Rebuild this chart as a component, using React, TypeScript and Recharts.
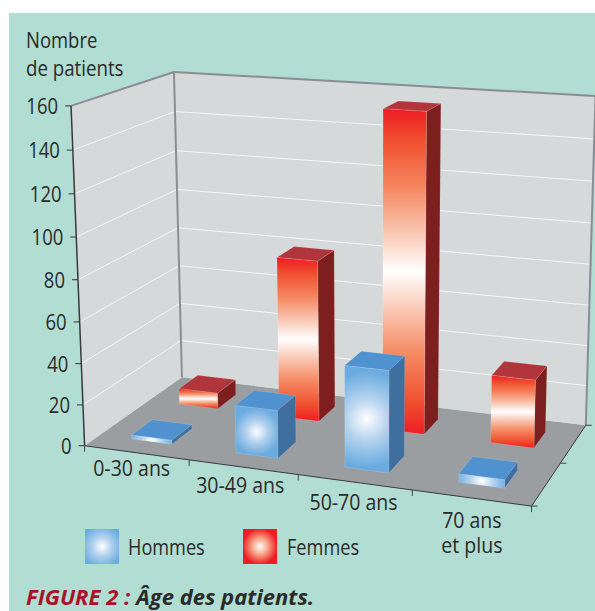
import React from 'react';
import { BarChart, Bar, XAxis, YAxis } from 'recharts';

const categories = ['0-30 ans', '30-49 ans', '50-70 ans', '70 ans et plus'];
const hommes = [2, 23, 48, 4];
const femmes = [8, 80, 155, 33];
const yTicks = [0, 20, 40, 60, 80, 100, 120, 140, 160];
const seriesNames = ['Hommes', 'Femmes'];
const rows = categories.map((c, i) => ({ c, hommes: hommes[i], femmes: femmes[i] }));

const W = 595, H = 611;
const PL = 100, PT = 100, PW = 400, PH = 400;
const BAR = 39;
const FONT = '"Open Sans", sans-serif';
const INK = '#2a2a2a';

// camera: perspective fitted to the seven visible corners of the 3D box (u along x, v up, w depth)
const corners: number[][] = [
  [0, 0, 0, 84.5, 446], [0, 1, 0, 71, 106], [0, 0, 1, 182, 377], [0, 1, 1, 174, 72],
  [1, 0, 0, 531.7, 505.7], [1, 0, 1, 585.7, 425.7], [1, 1, 1, 595.5, 96],
];
function solveCamera(): number[] {
  const n = 11;
  const A: number[][] = Array.from({ length: n }, () => new Array(n + 1).fill(0));
  const add = (r: number[], b: number) => {
    for (let i = 0; i < n; i++) { for (let j = 0; j < n; j++) A[i][j] += r[i] * r[j]; A[i][n] += r[i] * b; }
  };
  corners.forEach(([u, v, w, x, y]) => {
    add([u, v, w, 1, 0, 0, 0, 0, -x * u, -x * v, -x * w], x);
    add([0, 0, 0, 0, u, v, w, 1, -y * u, -y * v, -y * w], y);
  });
  for (let c = 0; c < n; c++) {
    let p = c;
    for (let r = c + 1; r < n; r++) if (Math.abs(A[r][c]) > Math.abs(A[p][c])) p = r;
    [A[c], A[p]] = [A[p], A[c]];
    for (let r = 0; r < n; r++) {
      if (r === c) continue;
      const f = A[r][c] / A[c][c];
      for (let k = c; k <= n; k++) A[r][k] -= f * A[c][k];
    }
  }
  return A.map((r, i) => r[n] / r[i]);
}
const M = solveCamera();
const project = (u: number, v: number, w: number): [number, number] => {
  const d = M[8] * u + M[9] * v + M[10] * w + 1;
  return [(M[0] * u + M[1] * v + M[2] * w + M[3]) / d, (M[4] * u + M[5] * v + M[6] * w + M[7]) / d];
};
const poly = (pts: number[][]) => pts.map((p) => project(p[0], p[1], p[2]).map((n) => n.toFixed(2)).join(',')).join(' ');
const Seg = ({ a, b, stroke, sw }: any) => {
  const p = project(a[0], a[1], a[2]);
  const q = project(b[0], b[1], b[2]);
  return <line x1={p[0]} y1={p[1]} x2={q[0]} y2={q[1]} stroke={stroke} strokeWidth={sw} />;
};
const Narrow = ({ x, y, sx, size, anchor, children, ...rest }: any) => (
  <text transform={`translate(${x},${y}) scale(${sx},1)`} textAnchor={anchor} fontSize={size} fontFamily={FONT} fill={INK} {...rest}>
    {children}
  </text>
);

const makeBox = (w0: number, w1: number, glow: boolean, front: string, top: string, side: string) => (props: any) => {
  const { x, y, width, height, index } = props;
  const u0 = (x - PL) / PW, u1 = (x + width - PL) / PW;
  const vt = 1 - (y - PT) / PH, vb = 1 - (y + height - PT) / PH;
  const edge = 'rgba(255,255,255,0.25)';
  const a = project(u0, vb, w0), b = project(u1, vb, w0), c = project(u1, vt, w0), d = project(u0, vt, w0);
  const cx = (a[0] + b[0] + c[0] + d[0]) / 4, cy = (a[1] + b[1] + c[1] + d[1]) / 4;
  const r = Math.max((b[0] - a[0]) * 0.56, (a[1] - d[1]) * 0.47);
  const id = `${front}${index}`;
  return (
    <g>
      {glow && (
        <radialGradient id={id} gradientUnits="userSpaceOnUse" cx={cx} cy={cy} r={r}>
          <stop offset="0" stopColor="#ffffff" />
          <stop offset="0.45" stopColor="#b4d2ee" />
          <stop offset="1" stopColor="#6aace0" />
        </radialGradient>
      )}
      <polygon points={poly([[u0, vt, w0], [u1, vt, w0], [u1, vt, w1], [u0, vt, w1]])} fill={top} stroke={edge} strokeWidth={0.5} />
      <polygon points={poly([[u1, vb, w0], [u1, vt, w0], [u1, vt, w1], [u1, vb, w1]])} fill={side} stroke={edge} strokeWidth={0.5} />
      <polygon points={poly([[u0, vb, w0], [u1, vb, w0], [u1, vt, w0], [u0, vt, w0]])} fill={glow ? `url(#${id})` : `url(#${front})`} stroke={edge} strokeWidth={0.5} />
    </g>
  );
};
const BoxHommes = makeBox(0.145, 0.355, true, 'blueFace', '#5092d0', '#3e6f9f');
const BoxFemmes = makeBox(0.64, 0.85, false, 'redFace', '#b0363c', '#7e1f1f');

const YTick = (props: any) => {
  const v = 1 - (props.y - PT) / PH;
  const [x, y] = project(0, v, 0);
  return (
    <g>
      <line x1={x - 6} y1={y} x2={x} y2={y} stroke="#333" strokeWidth={1} />
      <Narrow x={x - 13} y={y + 8} sx={0.88} size={21} anchor="end">{props.payload.value}</Narrow>
    </g>
  );
};
const XTick = (props: any) => {
  const u = (props.x - PL) / PW;
  const [x, y] = project(u, 0, 0);
  const parts = String(props.payload.value).split(' et ');
  return (
    <Narrow x={x - 5.5 + 7 * u} y={y + 22 + 9 * u} sx={0.93} size={21} anchor="middle">
      {parts.map((t, i) => (
        <tspan key={t} x={0} dy={i * 25.6}>{i > 0 ? 'et ' + t : t}</tspan>
      ))}
    </Narrow>
  );
};

const Defs = () => (
  <defs>
    <linearGradient id="redFace" x1="0" y1="0" x2="0" y2="1">
      <stop offset="0" stopColor="#ee1c25" />
      <stop offset="0.1" stopColor="#f0502f" />
      <stop offset="0.25" stopColor="#f58a64" />
      <stop offset="0.42" stopColor="#fbd9cb" />
      <stop offset="0.5" stopColor="#ffffff" />
      <stop offset="0.58" stopColor="#fbd9cb" />
      <stop offset="0.75" stopColor="#f58a64" />
      <stop offset="0.9" stopColor="#f0502f" />
      <stop offset="1" stopColor="#ee1c25" />
    </linearGradient>
    <radialGradient id="blueKey" cx="0.5" cy="0.5" r="0.6">
      <stop offset="0" stopColor="#ffffff" />
      <stop offset="0.45" stopColor="#b4d2ee" />
      <stop offset="1" stopColor="#6aace0" />
    </radialGradient>
    <radialGradient id="redKey" cx="0.5" cy="0.5" r="0.6">
      <stop offset="0" stopColor="#ffffff" />
      <stop offset="0.4" stopColor="#f7a284" />
      <stop offset="0.85" stopColor="#ee1c25" />
    </radialGradient>
  </defs>
);

const Room = () => {
  const grey = '#8b8d92';
  const marks = yTicks.slice(1, -1).map((t) => t / 160);
  return (
    <g>
      <polygon points={poly([[0, 0, 0], [1, 0, 0], [1, 0, 1], [0, 0, 1]])} fill="#9b9ea0" />
      <polygon points={poly([[0, 0, 0], [0, 1, 0], [0, 1, 1], [0, 0, 1]])} fill="#d5d9da" />
      <polygon points={poly([[0, 0, 1], [0, 1, 1], [1, 1, 1], [1, 0, 1]])} fill="#d5d9da" />
      {marks.map((v) => (
        <g key={v}>
          <Seg a={[0, v, 0]} b={[0, v, 1]} stroke="#f4f6f6" sw={1} />
          <Seg a={[0, v, 1]} b={[1, v, 1]} stroke="#f4f6f6" sw={1} />
        </g>
      ))}
      <Seg a={[0, 1, 0]} b={[0, 1, 1]} stroke={grey} sw={2} />
      <Seg a={[0, 1, 1]} b={[1, 1, 1]} stroke={grey} sw={2} />
      <Seg a={[0, 0, 1]} b={[0, 1, 1]} stroke={grey} sw={2} />
      <Seg a={[1, 0, 1]} b={[1, 1, 1]} stroke={grey} sw={2} />
      <Seg a={[0, 0, 0]} b={[0, 1, 0]} stroke="#3a3a3e" sw={1.5} />
      <Seg a={[0, 0, 0]} b={[1, 0, 0]} stroke="#3a3a3e" sw={1} />
      <Seg a={[1, 0, 0]} b={[1, 0, 1]} stroke="#3a3a3e" sw={1} />
      {categories.concat('').map((_, i) => {
        const [x, y] = project(i / categories.length, 0, 0);
        return <line key={i} x1={x} y1={y} x2={x} y2={y + 6} stroke="#444" strokeWidth={1} />;
      })}
      {[0, 0.5, 1].map((w) => {
        const [x, y] = project(1, 0, w);
        return <line key={w} x1={x} y1={y} x2={x + 6} y2={y} stroke="#444" strokeWidth={1} />;
      })}
    </g>
  );
};

const Key = () => (
  <g>
    <rect x={85} y={529} width={34} height={35} fill="url(#blueKey)" />
    <Narrow x={128} y={555} sx={0.865} size={21}>{seriesNames[0]}</Narrow>
    <rect x={243} y={529} width={34} height={35} fill="url(#redKey)" />
    <Narrow x={287} y={555} sx={0.865} size={21}>{seriesNames[1]}</Narrow>
  </g>
);

const Captions = () => (
  <g>
    <Narrow x={26} y={48} sx={0.84} size={22}>Nombre</Narrow>
    <Narrow x={26} y={76} sx={0.85} size={22}>de patients</Narrow>
    <Narrow x={26} y={605} sx={1} size={22} fontWeight={700} fontStyle="italic">
      <tspan fill="#a8132a">FIGURE 2 : </tspan>
      <tspan>Âge des patients.</tspan>
    </Narrow>
  </g>
);

export default function App() {
  return (
    <div style={{ position: 'absolute', left: 0, top: 0, width: W, height: H, background: '#fff', overflow: 'hidden' }}>
      <div style={{ position: 'absolute', left: 9, top: 13, right: 0, bottom: 0, background: '#b1ddd2' }} />
      <div style={{ position: 'absolute', left: 0, top: 0 }}>
        <BarChart
          width={W}
          height={H}
          data={rows}
          margin={{ left: PL - 1, top: PT, right: W - PL - PW, bottom: H - PT - PH - 1 }}
          barSize={BAR}
          barGap={-BAR}
        >
          <Defs />
          <Room />
          <XAxis dataKey="c" height={1} axisLine={false} tickLine={false} tick={XTick} interval={0} />
          <YAxis width={1} domain={[0, 160]} ticks={yTicks} axisLine={false} tickLine={false} tick={YTick} />
          <Bar dataKey="femmes" name={seriesNames[1]} shape={BoxFemmes} isAnimationActive={false} />
          <Bar dataKey="hommes" name={seriesNames[0]} shape={BoxHommes} isAnimationActive={false} />
          <Key />
          <Captions />
        </BarChart>
      </div>
    </div>
  );
}
